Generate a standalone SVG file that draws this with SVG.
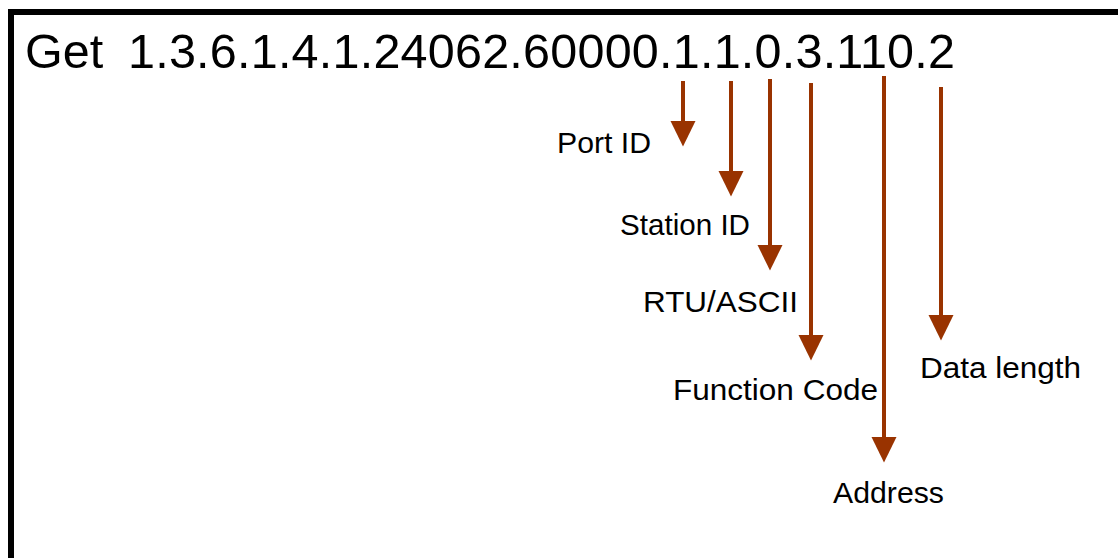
<svg xmlns="http://www.w3.org/2000/svg" width="1118" height="558" viewBox="0 0 1118 558">
  <style>
    .t { font-family: "Liberation Sans", Arial, sans-serif; fill: #000; }
    .title { font-size: 48.5px; }
    .lbl { font-size: 29px; }
    .arr { stroke: #993300; stroke-width: 4; fill: none; marker-end: url(#head); }
  </style>
  <defs>
    <marker id="head" markerUnits="userSpaceOnUse" markerWidth="26" markerHeight="26" refX="1" refY="12.5" orient="auto" viewBox="0 0 26 25">
      <path d="M0,0 L25.5,12.5 L0,25 Z" fill="#993300"/>
    </marker>
  </defs>
  <rect width="1118" height="558" fill="#fff"/>
  <path d="M11,558 V12 H1118" fill="none" stroke="#000" stroke-width="6"/>

  <g id="oid">
    <text class="t title" x="25" y="68">Get</text>
    <text class="t title" x="128" y="68" textLength="827" lengthAdjust="spacing">1.3.6.1.4.1.24062.60000.1.1.0.3.110.2</text>
  </g>

  <g id="connectors">
    <line class="arr" x1="683" y1="81" x2="683" y2="122"/>
    <line class="arr" x1="731" y1="81" x2="731" y2="172"/>
    <line class="arr" x1="770" y1="79" x2="770" y2="246"/>
    <line class="arr" x1="811" y1="83" x2="811" y2="336"/>
    <line class="arr" x1="884" y1="76" x2="884" y2="438"/>
    <line class="arr" x1="941" y1="87" x2="941" y2="316"/>
  </g>

  <g id="port-id"><text class="t lbl" x="557" y="153" textLength="94" lengthAdjust="spacingAndGlyphs">Port ID</text></g>
  <g id="station-id"><text class="t lbl" x="620" y="235" textLength="130" lengthAdjust="spacingAndGlyphs">Station ID</text></g>
  <g id="rtu-ascii"><text class="t lbl" x="643" y="312" textLength="155" lengthAdjust="spacingAndGlyphs">RTU/ASCII</text></g>
  <g id="function-code"><text class="t lbl" x="673" y="400" textLength="205" lengthAdjust="spacingAndGlyphs">Function Code</text></g>
  <g id="data-length"><text class="t lbl" x="920" y="378" textLength="161" lengthAdjust="spacingAndGlyphs">Data length</text></g>
  <g id="address"><text class="t lbl" x="833" y="503" textLength="111" lengthAdjust="spacingAndGlyphs">Address</text></g>
</svg>
